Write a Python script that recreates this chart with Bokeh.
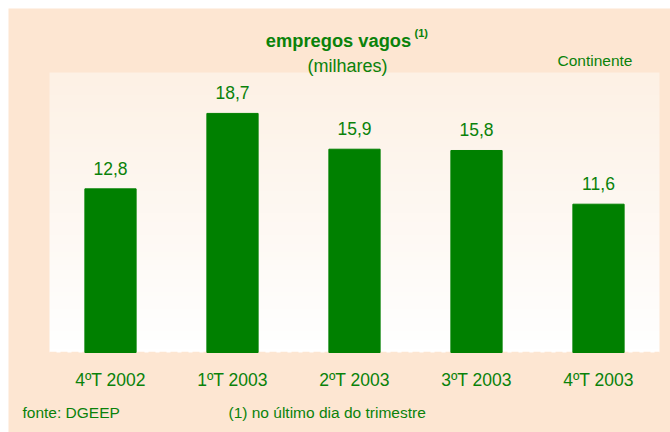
import numpy as np
from bokeh.plotting import figure
from bokeh.layouts import column, row
from bokeh.models import Range1d, Label, LabelSet, ColumnDataSource, Spacer
from bokeh.core.properties import value
from bokeh.embed import file_html
from bokeh.resources import INLINE

# ---- data ----
categories = ["4ºT 2002", "1ºT 2003", "2ºT 2003", "3ºT 2003", "4ºT 2003"]
values = [12.8, 18.7, 15.9, 15.8, 11.6]
value_labels = ["12,8", "18,7", "15,9", "15,8", "11,6"]

title_text = "empregos vagos"
title_note = "(1)"
subtitle_text = "(milhares)"
region_text = "Continente"
source_text = "fonte: DGEEP"
note_text = "(1) no último dia do trimestre"

GREEN = "#008000"
TEXT_GREEN = "#0a820a"
PEACH = "#fde6d2"
FONT = "Liberation Sans"

W, H = 662, 424
n_cat = len(categories)
y_top = 21.9                       # top of the inner plot area (data units)
cat_px = 122.0                     # px per category
unit_px = 280.0 / y_top            # px per data unit
pad_l, pad_r, pad_b, pad_t = 41, 11, 80, 64
x_start = -0.5 - pad_l / cat_px
x_end = n_cat - 0.5 + pad_r / cat_px
y_start = -pad_b / unit_px
y_end = y_top + pad_t / unit_px
idx = list(range(n_cat))

p = figure(width=W, height=H, output_backend="svg", toolbar_location=None,
           x_range=Range1d(x_start, x_end), y_range=Range1d(y_start, y_end),
           x_axis_location=None, y_axis_location=None, min_border=0)
p.border_fill_color = PEACH
p.background_fill_color = PEACH
p.outline_line_color = None
p.grid.grid_line_color = None

# vertical gradient background of the inner plot area
n = 64
t = np.linspace(0, 1, n)  # bottom -> top
top_rgb = np.array([253, 241, 229])
bot_rgb = np.array([255, 255, 255])
cols = (bot_rgb[None, :] * (1 - t[:, None]) + top_rgb[None, :] * t[:, None]).astype(np.uint32)
img = np.empty((n, 1), dtype=np.uint32)
view = img.view(dtype=np.uint8).reshape((n, 1, 4))
view[:, 0, 0] = cols[:, 0]
view[:, 0, 1] = cols[:, 1]
view[:, 0, 2] = cols[:, 2]
view[:, 0, 3] = 255
bg = p.image_rgba(image=[img], x=-0.5, y=0, dw=n_cat, dh=y_top)
bg.level = "image"

# faint dashed base line
p.segment(x0=[-0.5], y0=[0], x1=[n_cat - 0.5], y1=[0], line_color=PEACH,
          line_width=1.5, line_dash="7 4")

src = ColumnDataSource(dict(x=idx, top=values, lab=value_labels, cat=categories,
                            zero=[0] * n_cat))
p.vbar(x="x", top="top", bottom=0, width=0.42, source=src, fill_color=GREEN, line_color=GREEN)

p.add_layout(LabelSet(x="x", y="top", text="lab", source=src, y_offset=14,
                      text_align="center", text_baseline="alphabetic",
                      text_font=value(FONT), text_font_size=value("17.5px"),
                      text_color=TEXT_GREEN))
# category labels along the base line
p.add_layout(LabelSet(x="x", y="zero", text="cat", source=src, y_offset=-33.7,
                      text_align="center", text_baseline="alphabetic",
                      text_font=value(FONT), text_font_size=value("17.5px"),
                      text_color=TEXT_GREEN))

def add_text(txt, x, y, size, align="left", bold=False):
    p.add_layout(Label(x=x, y=y, x_units="screen", y_units="screen", text=txt,
                       text_font=FONT, text_font_size=size, text_color=TEXT_GREEN,
                       text_align=align, text_baseline="alphabetic",
                       text_font_style="bold" if bold else "normal"))

add_text(title_text, 330, 392, "18.3px", align="center", bold=True)
add_text(title_note, 406, 400, "11px", bold=True)
add_text(subtitle_text, 339, 367, "18px", align="center")
add_text(region_text, 549, 372, "15.5px")
add_text(source_text, 14, 20, "15.5px")
add_text(note_text, 220, 20, "15.5px")

layout = column(Spacer(height=8), row(Spacer(width=8), p, spacing=0), spacing=0)
open("out.html", "w").write(file_html(layout, INLINE))
